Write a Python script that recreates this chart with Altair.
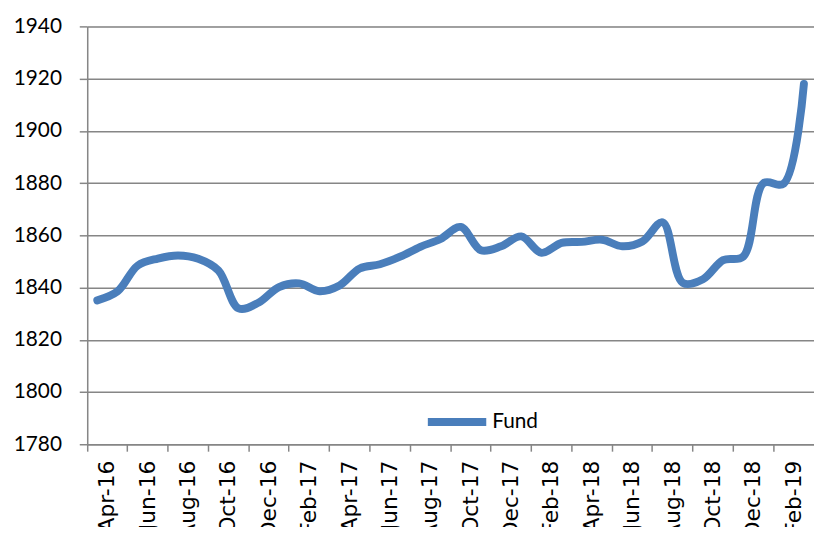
import altair as alt
import pandas as pd

months = ["Apr-16", "May-16", "Jun-16", "Jul-16", "Aug-16", "Sep-16", "Oct-16", "Nov-16",
          "Dec-16", "Jan-17", "Feb-17", "Mar-17", "Apr-17", "May-17", "Jun-17", "Jul-17",
          "Aug-17", "Sep-17", "Oct-17", "Nov-17", "Dec-17", "Jan-18", "Feb-18", "Mar-18",
          "Apr-18", "May-18", "Jun-18", "Jul-18", "Aug-18", "Sep-18", "Oct-18", "Nov-18",
          "Dec-18", "Jan-19", "Feb-19", "Mar-19"]
fund = [1835.1, 1838.5, 1848.4, 1851.1, 1852.3, 1851.0, 1846.5, 1832.0,
        1834.3, 1840.2, 1841.6, 1838.6, 1840.8, 1847.3, 1848.9, 1851.8,
        1855.6, 1858.6, 1863.2, 1854.3, 1855.8, 1859.6, 1853.3, 1857.1,
        1857.5, 1858.3, 1855.8, 1857.6, 1865.0, 1841.8, 1843.2, 1850.5,
        1851.9, 1880.0, 1879.8, 1918.0]
tick_months = months[::2]
y_ticks = [1780, 1800, 1820, 1840, 1860, 1880, 1900, 1920, 1940]
series = ["Fund"]

df = pd.DataFrame({"month": months, "value": fund, "series": series * len(months)})

FONT = "Lato"
XFONT = "DejaVu Sans"
GRAY = "#868686"
BLUE = "#4A7EBB"

chart = alt.Chart(df).mark_line(
    strokeWidth=8, interpolate="catmull-rom", strokeCap="round", strokeJoin="round"
).encode(
    x=alt.X("month:N", sort=months,
            scale=alt.Scale(type="band", paddingInner=0, paddingOuter=0),
            axis=alt.Axis(values=tick_months, bandPosition=0, labelOffset=10.2,
                          labelAngle=270, labelFontSize=22, labelFont=XFONT,
                          labelColor="#000000", labelPadding=9, tickSize=7,
                          tickColor=GRAY, tickWidth=1.5, domainColor=GRAY,
                          domainWidth=1.5, grid=False, title=None)),
    y=alt.Y("value:Q", scale=alt.Scale(domain=[1780, 1940], nice=False, zero=False),
            axis=alt.Axis(values=y_ticks, format="d", labelFontSize=21, labelFont=FONT,
                          labelColor="#000000", labelPadding=18, tickSize=8,
                          tickColor=GRAY, tickWidth=1.5, domainColor=GRAY,
                          domainWidth=1.5, grid=True, gridColor=GRAY, gridWidth=1.5,
                          title=None)),
    color=alt.Color("series:N", scale=alt.Scale(domain=series, range=[BLUE]),
                    legend=alt.Legend(title=None, orient="none", legendX=340, legendY=366,
                                      symbolType="stroke", symbolSize=3481,
                                      symbolStrokeWidth=8, labelFontSize=21,
                                      labelFont=FONT, labelColor="#000000",
                                      labelOffset=2)),
).properties(
    width=734, height=422,
    autosize=alt.AutoSizeParams(type="none"),
    padding={"left": 80, "top": 16, "right": 0, "bottom": 81},
).configure_view(stroke=None).configure(background="#ffffff")

chart.save("out.html", embed_options={"renderer": "svg", "actions": False})
